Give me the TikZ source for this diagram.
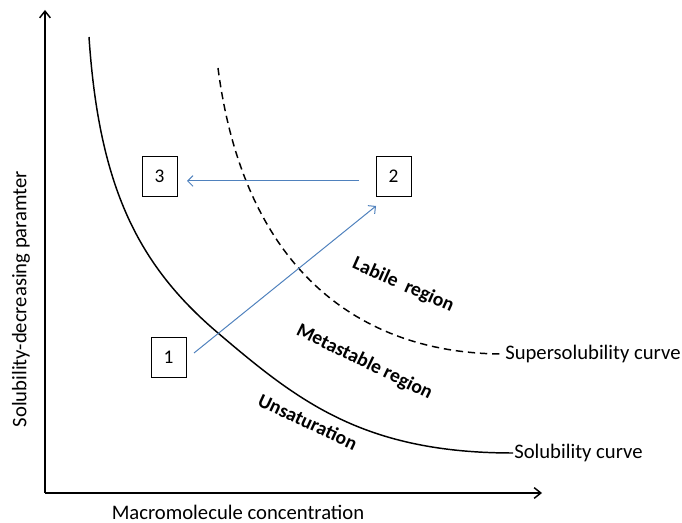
\documentclass[tikz,border=0pt]{standalone}
\usepackage{fontspec}
\setmainfont{Carlito}
\usetikzlibrary{arrows.meta}
\definecolor{arrowblue}{HTML}{4F81BD}
\tikzset{
  axis/.style={line width=1.1pt,-{Straight Barb[length=5pt,width=8pt]}},
  solcurve/.style={line width=1.1pt,black},
  supcurve/.style={line width=1.1pt,black,dash pattern=on 5.5pt off 3.6pt},
  numbox/.style={draw,line width=0.6pt,minimum width=26.25pt,minimum height=30pt,inner sep=0pt,font=\fontsize{14.5}{16}\selectfont},
  plain/.style={font=\fontsize{15.5}{18}\selectfont,inner sep=0pt},
  region/.style={font=\fontsize{14.7}{17}\selectfont\bfseries,inner sep=0pt,anchor=base},
  flow/.style={arrowblue,line width=0.75pt,-{Straight Barb[length=4pt,width=8pt]}}
}
\begin{document}
\begin{tikzpicture}[x=0.75pt,y=-0.75pt]
\useasboundingbox (0,0) rectangle (682,523);
% axes
\coordinate (origin) at (45,493);
\coordinate (ytop) at (45,10);
\coordinate (xend) at (542,493);
\draw[axis] (origin) -- (ytop);
\draw[axis] (origin) -- (xend);
\node[plain] (xlab) at (238,512) {Macromolecule concentration};
\node[plain,rotate=90] (ylab) at (21,299) {Solubility-decreasing paramter};
% curve labels
\node[plain,anchor=west] (sollab) at (514,453) {Solubility curve};
\node[plain,anchor=west] (suplab) at (505,354) {Supersolubility curve};
% curves
\coordinate (solstart) at (89,37);
\coordinate (solmid) at (218,333);
\coordinate (solend) at (513,453);
\draw[solcurve] (solstart) .. controls (99,187) and (138,265) .. (solmid)
  .. controls (298,401) and (363,453) .. (solend);
\coordinate (supstart) at (218,68);
\coordinate (supend) at (504,354);
\draw[supcurve] (supstart) .. controls (244,270) and (360,354) .. (supend);
% region labels
\node[region,rotate=-24] (labile) at (401,290) {Labile\ \ region};
\node[region,rotate=-26] (meta) at (362,367) {Metastable region};
\node[region,rotate=-25] (unsat) at (305,428) {Unsaturation};
% boxes
\node[numbox] (b1) at (168.5,357) {1};
\node[numbox] (b2) at (393.5,176) {2};
\node[numbox] (b3) at (159.5,176) {3};
% arrows
\coordinate (a1s) at (194,353);
\coordinate (a1e) at (376,206);
\coordinate (a2s) at (359,181);
\coordinate (a2e) at (187,181);
\draw[flow] (a1s) -- (a1e);
\draw[flow] (a2s) -- (a2e);
\end{tikzpicture}
\end{document}
